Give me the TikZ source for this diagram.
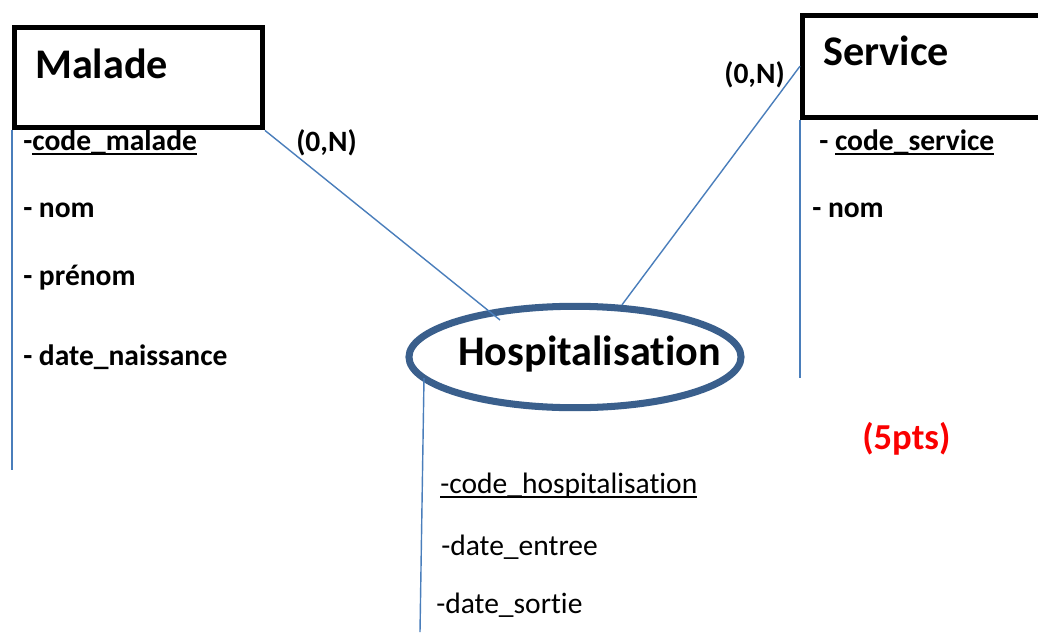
\documentclass[tikz,border=0pt]{standalone}
\usepackage{fontspec}
\setmainfont{Carlito}[Ligatures=NoCommon]
\usetikzlibrary{positioning,calc,shapes.geometric}
\definecolor{lienbleu}{RGB}{74,126,187}
\definecolor{bordbleu}{RGB}{58,95,140}
\definecolor{noterouge}{RGB}{250,0,0}
\newcommand{\souligne}[1]{\leavevmode\setbox0\hbox{#1}\rlap{\rule[-3.3pt]{\wd0}{1.4pt}}\box0}

\tikzset{
  entite/.style={draw, rectangle, line width=3.8pt, inner sep=0pt, anchor=north west},
  relation/.style={draw=bordbleu, ellipse, line width=5pt, inner sep=0pt,
    minimum width=8.3cm, minimum height=2.535cm},
  titre/.style={font=\fontsize{30}{36}\selectfont\bfseries, anchor=base west, inner sep=0pt},
  attr/.style={font=\fontsize{21}{25}\selectfont\bfseries, anchor=base west, inner sep=0pt},
  attrh/.style={font=\fontsize{21}{25}\selectfont, anchor=base west, inner sep=0pt},
  card/.style={font=\fontsize{21}{25}\selectfont\bfseries, anchor=base west, inner sep=0pt},
  note/.style={font=\fontsize{26}{31}\selectfont\bfseries, text=noterouge, anchor=base west, inner sep=0pt},
  lien/.style={draw=lienbleu, line width=1pt}
}

\begin{document}
\begin{tikzpicture}[x=0.025cm, y=-0.025cm]
  \useasboundingbox (0,0) rectangle (1038,632);
  \clip (0,0) rectangle (1038,632);
  % entites
  \node[entite, minimum width=6.1875cm, minimum height=2.5cm] (malade) at (12,25) {};%
  \node[entite, minimum width=6.5cm, minimum height=2.55cm] (service) at (800,12.5) {};%
  \node[titre] (malade-titre) at (35,78) {Malade};%
  \node[titre] (service-titre) at (823,65) {Service};%
  % association
  \node[relation] (hosp) at (575,357) {};%
  \node[titre] (hosp-titre) at (458,365) {Hospitalisation};%
  % attributs
  \node[attr] (m-code) at (23,150) {-\souligne{code\_malade}};%
  \node[attr] (m-nom) at (23,217) {- nom};%
  \node[attr] (m-prenom) at (23,285) {- prénom};%
  \node[attr] (m-date) at (23,365) {- date\_naissance};%
  \node[attr] (s-code) at (819,150) {- \souligne{code\_service}};%
  \node[attr] (s-nom) at (812,217) {- nom};%
  \node[attrh] (h-code) at (440,493) {\souligne{-code\_hospitalisation}};%
  \node[attrh] (h-entree) at (441,555) {-date\_entree};%
  \node[attrh] (h-sortie) at (436,613) {-date\_sortie};%
  % cardinalites
  \node[card] (card-m) at (296,151) {(0,N)};%
  \node[card] (card-s) at (724,83) {(0,N)};%
  \node[note] (points) at (862,449) {(5pts)};%
  % liens
  \coordinate (m-fin) at (12,470);
  \coordinate (s-fin) at (800,378);
  \coordinate (h-fin) at (420,632);
  \coordinate (h-entre) at ($(hosp.center)+(-75,-37)$);
  \coordinate (h-bord) at ($(hosp.center)+(-151,21)$);
  \draw[lien] (malade.south west) -- (m-fin);
  \draw[lien] (service.south west) -- (s-fin);
  \draw[lien] (h-bord) -- (h-fin);
  \draw[lien] (malade.south east) -- (h-entre);
  \draw[lien] (service.west) -- (hosp.48);
\end{tikzpicture}
\end{document}
